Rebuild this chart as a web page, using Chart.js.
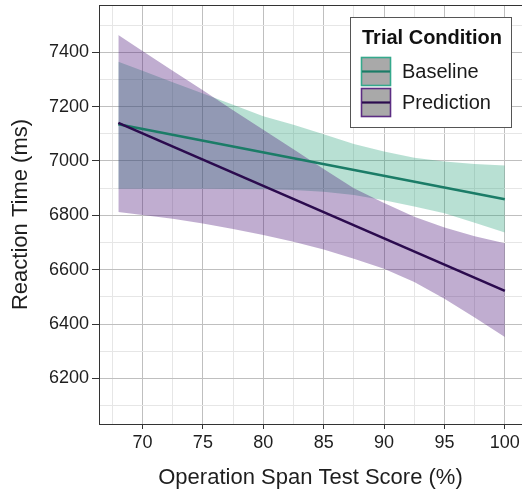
<!DOCTYPE html>
<html>
<head>
<meta charset="utf-8">
<script src="https://cdn.jsdelivr.net/npm/chart.js@4"></script>
<style>
  html, body { margin: 0; padding: 0; background: #fff; }
  #wrap { width: 522px; height: 489px; }
</style>
</head>
<body>
<div id="wrap"><canvas id="rtChart" width="522" height="489"></canvas></div>
<script>
// values
const scoreGrid = [68, 70, 72.5, 75, 77.5, 80, 82.5, 85, 87.5, 90, 92.5, 95, 97.5, 100];
const baselineUpper = [7365, 7332, 7290, 7248, 7207, 7165, 7133, 7098, 7062, 7035, 7012, 6998, 6989, 6983];
const baselineLower = [6898, 6898, 6898, 6898, 6897, 6896, 6893, 6887, 6875, 6855, 6832, 6808, 6773, 6737];
const predictionUpper = [7464, 7405, 7332, 7260, 7187, 7115, 7043, 6970, 6900, 6845, 6795, 6755, 6723, 6697];
const predictionLower = [6812, 6801, 6787, 6770, 6750, 6728, 6703, 6674, 6640, 6603, 6555, 6493, 6424, 6352];

const fitX = [68, 100];
const baselineFit = [7135, 6859];
const predictionFit = [7140, 6522];

const conditions = ['Baseline', 'Prediction'];
const xTicks = [70, 75, 80, 85, 90, 95, 100];
const yTicks = [6200, 6400, 6600, 6800, 7000, 7200, 7400];

const GREEN = '#1b7c67', PURPLE = '#2b0b4e';
const GREEN_FILL = 'rgba(40,160,120,0.33)', PURPLE_FILL = 'rgba(75,20,120,0.35)';
const KEY_EDGE = ['#35a98c', '#5c2d83'];
const MAJOR = '#bfbfbf', MINOR = '#e6e6e6';
const FONT = '"Liberation Sans", Arial, sans-serif';

const pts = (xs, ys) => xs.map((x, i) => ({ x: x, y: ys[i] }));

const band = (ys, fillTo, color, order) => ({
    data: pts(scoreGrid, ys), fill: fillTo, backgroundColor: color,
    borderWidth: 0, pointRadius: 0, order: order
});

// panel frame + legend drawn on top
const frame = {
    id: 'frame',
    afterDraw(chart) {
        const { ctx, chartArea: a } = chart;
        ctx.save();
        ctx.strokeStyle = '#333';
        ctx.lineWidth = 1;
        ctx.beginPath();
        ctx.moveTo(a.left + 0.5, a.bottom); ctx.lineTo(a.left + 0.5, a.top + 0.5);
        ctx.lineTo(chart.width, a.top + 0.5);
        ctx.stroke();

        // legend
        ctx.fillStyle = '#fff';
        ctx.strokeStyle = '#555';
        ctx.fillRect(350.5, 17.5, 161, 110);
        ctx.strokeRect(350.5, 17.5, 161, 110);
        ctx.fillStyle = '#111';
        ctx.font = 'bold 20px ' + FONT;
        ctx.textBaseline = 'middle';
        ctx.fillText('Trial Condition', 362, 38);
        const lines = [GREEN, PURPLE];
        conditions.forEach((name, i) => {
            const y = 57 + i * 31;
            ctx.fillStyle = '#a9a9a9';
            ctx.fillRect(361, y, 30, 29);
            ctx.lineWidth = 1.6;
            ctx.strokeStyle = KEY_EDGE[i];
            ctx.strokeRect(361.5, y + 0.5, 29, 28);
            ctx.strokeStyle = lines[i];
            ctx.lineWidth = 2.2;
            ctx.beginPath();
            ctx.moveTo(362, y + 14.5); ctx.lineTo(390, y + 14.5);
            ctx.stroke();
            ctx.fillStyle = '#1a1a1a';
            ctx.font = '20px ' + FONT;
            ctx.fillText(name, 402, y + 15);
        });
        ctx.restore();
    }
};

const ctx = document.getElementById('rtChart').getContext('2d');
new Chart(ctx, {
    type: 'line',
    data: {
        datasets: [
            band(baselineUpper, 1, GREEN_FILL, 4),
            band(baselineLower, false, 'transparent', 4),
            band(predictionUpper, 3, PURPLE_FILL, 3),
            band(predictionLower, false, 'transparent', 3),
            { label: conditions[0], data: pts(fitX, baselineFit), borderColor: GREEN, borderWidth: 2.6, pointRadius: 0, fill: false, order: 1 },
            { label: conditions[1], data: pts(fitX, predictionFit), borderColor: PURPLE, borderWidth: 2.6, pointRadius: 0, fill: false, order: 0 }
        ]
    },
    options: {
        responsive: false,
        animation: false,
        layout: { padding: { top: 5, right: 0, bottom: 0, left: 0 } },
        plugins: { legend: { display: false }, tooltip: { enabled: false } },
        scales: {
            x: {
                type: 'linear', min: 66.4, max: 101.42,
                afterBuildTicks(s) {
                    const t = [];
                    for (let v = 67.5; v <= 100; v += 2.5) t.push({ value: v });
                    s.ticks = t;
                },
                afterFit(s) { s.height = 65; s.paddingLeft = 0; s.paddingRight = 0; },
                ticks: {
                    autoSkip: false, maxRotation: 0, padding: 3, color: '#1e1e1e',
                    font: { family: FONT, size: 18 },
                    callback: v => xTicks.includes(v) ? String(v) : ''
                },
                grid: {
                    color: c => xTicks.includes(c.tick.value) ? MAJOR : MINOR,
                    tickColor: c => xTicks.includes(c.tick.value) ? '#333' : 'transparent',
                    tickLength: 5
                },
                border: { display: true, color: '#333', width: 1 },
                title: {
                    display: true, text: 'Operation Span Test Score (%)', color: '#1e1e1e',
                    font: { family: FONT, size: 22, lineHeight: 1 }, padding: 0
                }
            },
            y: {
                type: 'linear', min: 6032, max: 7574,
                afterBuildTicks(s) {
                    const t = [];
                    for (let v = 6100; v <= 7500; v += 100) t.push({ value: v });
                    s.ticks = t;
                },
                afterFit(s) { s.width = 99; s.paddingTop = 0; s.paddingBottom = 0; },
                ticks: {
                    autoSkip: false, padding: 3, color: '#1e1e1e',
                    font: { family: FONT, size: 18 },
                    callback: v => yTicks.includes(v) ? String(v) : ''
                },
                grid: {
                    color: c => yTicks.includes(c.tick.value) ? MAJOR : MINOR,
                    tickColor: c => yTicks.includes(c.tick.value) ? '#333' : 'transparent',
                    tickLength: 7
                },
                border: { display: true, color: '#333', width: 1 },
                title: {
                    display: true, text: 'Reaction Time (ms)', color: '#1e1e1e',
                    font: { family: FONT, size: 22, lineHeight: 1 }, padding: 10
                }
            }
        }
    },
    plugins: [frame]
});
</script>
</body>
</html>
